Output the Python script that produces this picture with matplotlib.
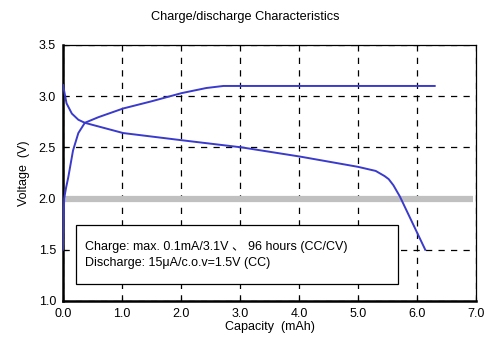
import numpy as np
import matplotlib
matplotlib.use("Agg")
import matplotlib.pyplot as plt
from matplotlib.patches import Rectangle

plt.rcParams['font.family'] = ['Liberation Sans', 'Noto Sans CJK JP', 'DejaVu Sans']

# Данные кривой заряда (ёмкость, мА·ч / напряжение, В)
charge_cap = [0.0, 0.02, 0.05, 0.09, 0.17, 0.26, 0.37, 0.6, 1.02, 1.5, 2.01, 2.43, 2.72, 3.5, 4.5, 5.5, 6.3]
charge_v = [1.5, 2.0, 2.1, 2.21, 2.47, 2.64, 2.74, 2.795, 2.88, 2.95, 3.03, 3.08, 3.1, 3.1, 3.1, 3.1, 3.1]

# Данные кривой разряда
discharge_cap = [0.0, 0.06, 0.15, 0.26, 0.37, 0.63, 1.02, 2.01, 3.03, 4.02, 5.0, 5.3, 5.45, 5.52, 5.6, 5.71, 6.14]
discharge_v = [3.11, 2.93, 2.83, 2.77, 2.74, 2.70, 2.64, 2.57, 2.50, 2.41, 2.31, 2.27, 2.22, 2.19, 2.13, 2.02, 1.5]

cutoff_v = 2.0
x_ticks = [0, 1, 2, 3, 4, 5, 6, 7]
y_ticks = [1.0, 1.5, 2.0, 2.5, 3.0, 3.5]

fig = plt.figure(figsize=(5, 3.6), dpi=100)
ax = fig.add_axes([0.126, 0.164, 0.826, 0.711])

# Серая линия отсечки
ax.plot([0, 6.95], [cutoff_v, cutoff_v], color='#c0c0c0', lw=4.5, zorder=2, solid_capstyle='butt')

ax.plot(charge_cap, charge_v, color='#3a3acc', lw=1.4, zorder=3)
ax.plot(discharge_cap, discharge_v, color='#3a3acc', lw=1.4, zorder=3)

ax.set_xlim(0, 7)
ax.set_ylim(1.0, 3.5)
ax.set_xticks(x_ticks)
ax.set_yticks(y_ticks)
ax.set_xticklabels([f"{t:.1f}" for t in x_ticks])
ax.set_yticklabels([f"{t:.1f}" for t in y_ticks])
ax.tick_params(direction='in', length=3, labelsize=9, pad=5)

ax.grid(True, color='black', linestyle=(0, (5, 5)), lw=0.9)
ax.set_axisbelow(True)

for side in ['left', 'bottom']:
    ax.spines[side].set_linewidth(1.8)
for side in ['right', 'top']:
    ax.spines[side].set_linewidth(0.9)

ax.set_xlabel('Capacity  (mAh)', fontsize=9, labelpad=1)
ax.set_ylabel('Voltage  (V)', fontsize=9, labelpad=6)

fig.text(0.49, 0.953, 'Charge/discharge Characteristics', ha='center', va='center', fontsize=9.2)

# Рамка с условиями испытаний
ax.add_patch(Rectangle((0.22, 1.166), 5.46, 0.576, fc='white', ec='black', lw=0.9, zorder=4))
ax.text(0.38, 1.527, 'Charge: max. 0.1mA/3.1V \u3001 96 hours (CC/CV)',
        fontsize=9, va='center', ha='left', zorder=5)
ax.text(0.38, 1.371, 'Discharge: 15\u03bcA/c.o.v=1.5V (CC)',
        fontsize=9, va='center', ha='left', zorder=5)

fig.savefig('out.png', dpi=100)
